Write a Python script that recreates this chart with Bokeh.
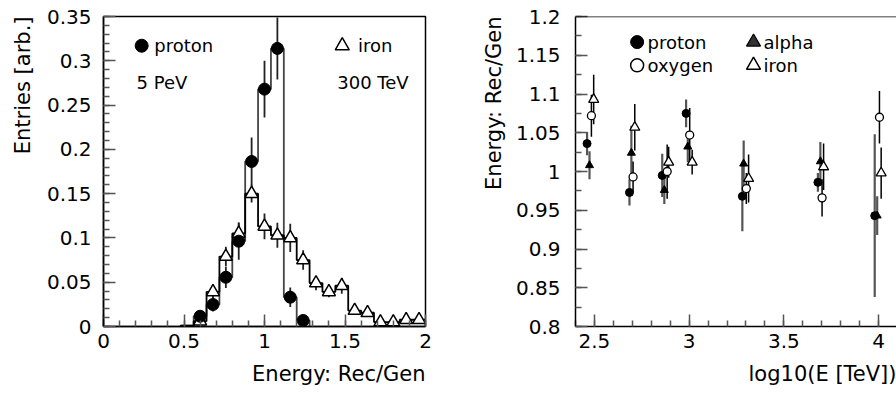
import numpy as np
from bokeh.plotting import figure
from bokeh.layouts import row
from bokeh.models import FixedTicker, Span, Title
from bokeh.core.properties import value
from bokeh.embed import file_html
from bokeh.resources import INLINE

FONT = "DejaVu Sans"

# ---------------- Left panel data ----------------
bin_width = 0.08
proton_centers = [0.52, 0.60, 0.68, 0.76, 0.84, 0.92, 1.00, 1.08, 1.16, 1.24]
proton_vals = [0.001, 0.0116, 0.0248, 0.0556, 0.0963, 0.1863, 0.268, 0.314, 0.0331, 0.0068]
proton_errs = [0.0, 0.005, 0.008, 0.012, 0.021, 0.027, 0.032, 0.035, 0.011, 0.003]

iron_centers = [0.52, 0.60, 0.68, 0.76, 0.84, 0.92, 1.00, 1.08, 1.16, 1.24,
                1.32, 1.40, 1.48, 1.56, 1.64, 1.72, 1.80, 1.88, 1.96]
iron_vals = [0.001, 0.006, 0.039, 0.079, 0.105, 0.150, 0.113, 0.103, 0.100, 0.075,
             0.049, 0.039, 0.046, 0.018, 0.0155, 0.005, 0.005, 0.0076, 0.0076]
iron_errs = [0.0, 0.003, 0.007, 0.011, 0.012, 0.010, 0.0145, 0.014, 0.016, 0.011,
             0.008, 0.006, 0.009, 0.004, 0.004, 0.003, 0.003, 0.003, 0.003]

left_xticks = [0, 0.5, 1, 1.5, 2]
left_xlabels = ["0", "0.5", "1", "1.5", "2"]
left_yticks = [0, 0.05, 0.1, 0.15, 0.2, 0.25, 0.3, 0.35]
left_ylabels = ["0", "0.05", "0.1", "0.15", "0.2", "0.25", "0.3", "0.35"]

# ---------------- Right panel data ----------------
x_proton = [2.461, 2.685, 2.858, 2.984, 3.281, 3.680, 3.980]
y_proton = [1.036, 0.973, 0.995, 1.075, 0.968, 0.986, 0.943]
e_proton = [0.015, 0.017, 0.028, 0.018, 0.045, 0.012, 0.105]

x_alpha = [2.474, 2.695, 2.869, 2.993, 3.288, 3.693, 3.993]
y_alpha = [1.008, 1.024, 0.976, 1.032, 1.010, 1.013, 0.943]
e_alpha = [0.018, 0.035, 0.018, 0.020, 0.030, 0.025, 0.025]

x_oxygen = [2.484, 2.704, 2.884, 3.003, 3.302, 3.702, 4.005]
y_oxygen = [1.072, 0.993, 1.000, 1.047, 0.978, 0.966, 1.070]
e_oxygen = [0.027, 0.020, 0.035, 0.035, 0.020, 0.024, 0.034]

x_iron = [2.496, 2.713, 2.892, 3.016, 3.314, 3.710, 4.014]
y_iron = [1.093, 1.057, 1.012, 1.012, 0.991, 1.006, 0.998]
e_iron = [0.032, 0.030, 0.020, 0.016, 0.031, 0.030, 0.033]

right_xticks = [2.5, 3, 3.5, 4]
right_xlabels = ["2.5", "3", "3.5", "4"]
right_yticks = [0.8, 0.85, 0.9, 0.95, 1, 1.05, 1.1, 1.15, 1.2]
right_ylabels = ["0.8", "0.85", "0.9", "0.95", "1", "1.05", "1.1", "1.15", "1.2"]


def style_axes(p, xt, xl, xminor, yt, yl, yminor, ystandoff):
    p.xaxis.ticker = FixedTicker(ticks=xt, minor_ticks=xminor)
    p.yaxis.ticker = FixedTicker(ticks=yt, minor_ticks=yminor)
    p.xaxis.major_label_overrides = dict(zip(xt, xl))
    p.yaxis.major_label_overrides = dict(zip(yt, yl))
    for ax in (p.xaxis[0], p.yaxis[0]):
        ax.axis_line_color = "black"
        ax.axis_line_width = 1.5
        ax.major_tick_in = 12
        ax.major_tick_out = 0
        ax.minor_tick_in = 6
        ax.minor_tick_out = 0
        ax.major_tick_line_color = "#555555"
        ax.minor_tick_line_color = "#555555"
        ax.major_tick_line_width = 1.5
        ax.minor_tick_line_width = 1.5
        ax.major_label_text_font = FONT
        ax.major_label_text_font_size = "20px"
        ax.major_label_text_color = "black"
        ax.axis_label_text_font = FONT
        ax.axis_label_text_font_size = "21px"
        ax.axis_label_text_font_style = "normal"
        ax.axis_label_text_color = "black"
    p.xaxis.major_label_standoff = 7
    p.yaxis.major_label_standoff = ystandoff
    p.xgrid.visible = False
    p.ygrid.visible = False


def set_labels(p, xlab, ylab, xstand, ystand):
    try:
        p.xaxis.axis_label_align = "right"
        p.yaxis.axis_label_align = "right"
        p.xaxis.axis_label = xlab
        p.yaxis.axis_label = ylab
        p.xaxis.axis_label_standoff = xstand
        p.yaxis.axis_label_standoff = ystand
    except Exception:
        p.xaxis.axis_label = None
        p.yaxis.axis_label = None
        p.add_layout(Title(text=xlab, align="right", text_font=FONT, text_font_size="21px",
                           text_font_style="normal", text_color="black", standoff=xstand), "below")
        p.add_layout(Title(text=ylab, align="right", text_font=FONT, text_font_size="21px",
                           text_font_style="normal", text_color="black", standoff=ystand), "left")


# ---------------- Left figure ----------------
p1 = figure(width=450, height=397, x_range=(0, 2), y_range=(0, 0.35),
            output_backend="svg", toolbar_location=None,
            min_border_left=103, min_border_right=25, min_border_top=16, min_border_bottom=71)
p1.outline_line_color = "black"
p1.outline_line_width = 1.5
style_axes(p1, left_xticks, left_xlabels, list(np.round(np.arange(0, 2.001, 0.1), 3)),
           left_yticks, left_ylabels, list(np.round(np.arange(0, 0.351, 0.01), 3)), 12)
set_labels(p1, "Energy: Rec/Gen", "Entries [arb.]", 18, 17)

pc = np.array(proton_centers)
pv = np.array(proton_vals)
pe = np.array(proton_errs)
ic = np.array(iron_centers)
iv = np.array(iron_vals)
ie = np.array(iron_errs)

# step histograms
p_edges = np.concatenate([pc - bin_width / 2, [pc[-1] + bin_width / 2]])
p_heights = np.concatenate([pv, [0.0]])
i_edges = np.concatenate([ic - bin_width / 2, [ic[-1] + bin_width / 2]])
i_heights = np.concatenate([iv, [0.0]])
p1.step(x=np.concatenate([[p_edges[0]], p_edges]), y=np.concatenate([[0.0], p_heights]),
        mode="after", line_color="#444444", line_width=1.8)
p1.step(x=np.concatenate([[i_edges[0]], i_edges]), y=np.concatenate([[0.0], i_heights]),
        mode="after", line_color="black", line_width=1.8)

# error bars
p1.segment(x0=pc[1:], y0=(pv - pe)[1:], x1=pc[1:], y1=(pv + pe)[1:], line_color="#222222", line_width=1.8)
p1.segment(x0=ic[1:], y0=(iv - ie)[1:], x1=ic[1:], y1=(iv + ie)[1:], line_color="#222222", line_width=1.8)

# markers
p1.scatter(x=ic[1:], y=iv[1:], marker="triangle", size=13, fill_color="white",
           line_color="black", line_width=1.5)
p1.scatter(x=pc[1:], y=pv[1:], marker="circle", size=12, fill_color="black", line_color="black")

# legend-like labels (left)
p1.scatter(x=[0.237], y=[0.317], marker="circle", size=13, fill_color="black", line_color="black")
p1.scatter(x=[1.483], y=[0.317], marker="triangle", size=14, fill_color="white",
           line_color="black", line_width=1.5)
p1.text(x=[0.315, 1.58], y=[0.317, 0.317], text=["proton", "iron"], text_font=value(FONT),
        text_font_size="18px", text_baseline="middle", text_align="left")
p1.text(x=[0.205, 1.452], y=[0.2755, 0.2755], text=["5 PeV", "300 TeV"], text_font=value(FONT),
        text_font_size="18px", text_baseline="middle", text_align="left")

# ---------------- Right figure ----------------
p2 = figure(width=446, height=397, x_range=(2.4, 4.095), y_range=(0.8, 1.2),
            output_backend="svg", toolbar_location=None,
            min_border_left=125, min_border_right=0, min_border_top=16, min_border_bottom=71)
p2.outline_line_color = None
p2.add_layout(Span(location=1.2, dimension="width", line_color="black", line_width=1.5))
style_axes(p2, right_xticks, right_xlabels, list(np.round(np.arange(2.4, 4.1, 0.1), 3)),
           right_yticks, right_ylabels, list(np.round(np.arange(0.8, 1.201, 0.025), 4)), 15)
set_labels(p2, "log10(E [TeV])", "Energy: Rec/Gen", 18, 14)


def err(p, xs, ys, es, color, width):
    xs = np.array(xs)
    ys = np.array(ys)
    es = np.array(es)
    p.segment(x0=xs, y0=ys - es, x1=xs, y1=ys + es, line_color=color, line_width=width)


err(p2, x_proton, y_proton, e_proton, "#555555", 2.2)
err(p2, x_alpha, y_alpha, e_alpha, "#555555", 2.2)
err(p2, x_oxygen, y_oxygen, e_oxygen, "black", 1.5)
err(p2, x_iron, y_iron, e_iron, "black", 1.5)

p2.scatter(x=x_proton, y=y_proton, marker="circle", size=8, fill_color="black", line_color="black")
p2.scatter(x=x_alpha, y=y_alpha, marker="triangle", size=8, fill_color="black", line_color="black")
p2.scatter(x=x_oxygen, y=y_oxygen, marker="circle", size=8, fill_color="white",
           line_color="black", line_width=1.3)
p2.scatter(x=x_iron, y=y_iron, marker="triangle", size=10, fill_color="white",
           line_color="black", line_width=1.3)

# legend-like labels (right)
p2.scatter(x=[2.7255], y=[1.167], marker="circle", size=13, fill_color="black", line_color="black")
p2.scatter(x=[2.7255], y=[1.137], marker="circle", size=13, fill_color="white",
           line_color="black", line_width=1.5)
p2.scatter(x=[3.34], y=[1.167], marker="triangle", size=14, fill_color="#333333",
           line_color="black", line_width=1.2)
p2.scatter(x=[3.34], y=[1.137], marker="triangle", size=14, fill_color="white",
           line_color="black", line_width=1.5)
p2.text(x=[2.78, 2.78, 3.393, 3.393], y=[1.167, 1.137, 1.167, 1.137],
        text=["proton", "oxygen", "alpha", "iron"], text_font=value(FONT),
        text_font_size="18px", text_baseline="middle", text_align="left")

for p in (p1, p2):
    p.background_fill_color = "white"
    p.border_fill_color = "white"

layout = row(p1, p2)
open("out.html", "w").write(file_html(layout, INLINE))
